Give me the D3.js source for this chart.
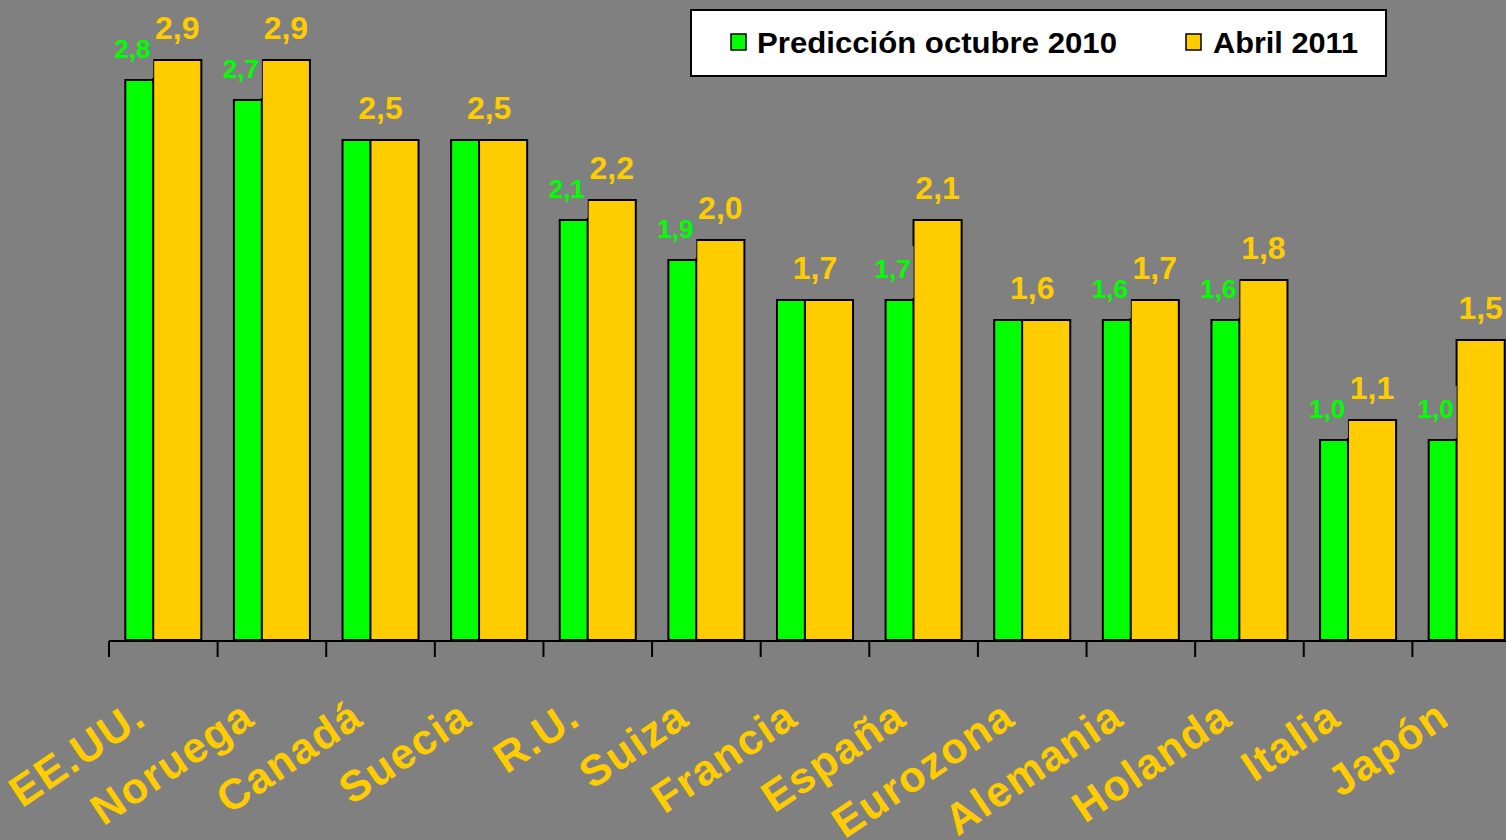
<!DOCTYPE html>
<html>
<head>
<meta charset="utf-8">
<script src="https://cdn.jsdelivr.net/npm/d3@7"></script>
<style>
  html, body { margin: 0; padding: 0; background: #808080; }
  svg { display: block; font-family: "Liberation Sans", Arial, sans-serif; }
</style>
</head>
<body>
<svg id="chart" width="1506" height="840"></svg>
<script>
// Growth forecasts by country (%)
const categories = ["EE.UU.", "Noruega", "Canadá", "Suecia", "R.U.", "Suiza", "Francia",
                    "España", "Eurozona", "Alemania", "Holanda", "Italia", "Japón"];
const prediccion2010 = [2.8, 2.7, 2.5, 2.5, 2.1, 1.9, 1.7, 1.7, 1.6, 1.6, 1.6, 1.0, 1.0];
const abril2011 = [2.9, 2.9, 2.5, 2.5, 2.2, 2.0, 1.7, 2.1, 1.6, 1.7, 1.8, 1.1, 1.5];
const seriesNames = ["Predicción octubre 2010", "Abril 2011"];

const GREEN = "#00FF00";
const GOLD = "#FFCC00";
const BG = "#808080";

const svg = d3.select("#chart");
svg.append("rect").attr("width", 1506).attr("height", 840).attr("fill", BG);

// Scales
const x = d3.scaleBand().domain(categories).range([109, 1521]).padding(0);
const y = d3.scaleLinear().domain([0, 3.2]).range([640, 0]);
const bw = x.bandwidth();

// Clustered bars with overlap: the second series is drawn over the first
const gapFrac = 0.30;          // empty share of each band
const overlapFrac = 0.42;      // share of a bar hidden behind the next one
const groupW = bw * (1 - gapFrac);
const barW = groupW / (2 - overlapFrac);
const groupOff = (bw - groupW) / 2;
const greenX = c => x(c) + groupOff;
const goldX = c => x(c) + groupOff + barW * (1 - overlapFrac);

const fmt = v => d3.format(".1f")(v).replace(".", ",");

const rows = categories.map((c, i) => ({ c, a: prediccion2010[i], b: abril2011[i] }));

const bars = svg.append("g");
bars.selectAll("rect.g").data(rows).join("rect")
  .attr("class", "g")
  .attr("x", d => greenX(d.c)).attr("width", barW)
  .attr("y", d => y(d.a)).attr("height", d => y(0) - y(d.a))
  .attr("fill", GREEN).attr("stroke", "#000").attr("stroke-width", 2);
bars.selectAll("rect.o").data(rows).join("rect")
  .attr("class", "o")
  .attr("x", d => goldX(d.c)).attr("width", barW)
  .attr("y", d => y(d.b)).attr("height", d => y(0) - y(d.b))
  .attr("fill", GOLD).attr("stroke", "#000").attr("stroke-width", 2);

// Category axis: baseline with ticks on band boundaries
const axis = svg.append("g");
const bounds = categories.map(c => x(c)).concat([x.range()[1]]);
axis.append("line")
  .attr("x1", x.range()[0]).attr("x2", x.range()[1])
  .attr("y1", 641).attr("y2", 641)
  .attr("stroke", "#000").attr("stroke-width", 2);
axis.selectAll("line.tick").data(bounds).join("line")
  .attr("class", "tick")
  .attr("x1", d => d).attr("x2", d => d)
  .attr("y1", 641).attr("y2", 657)
  .attr("stroke", "#000").attr("stroke-width", 2);

axis.selectAll("text.cat").data(categories).join("text")
  .attr("class", "cat")
  .attr("transform", c => `translate(${x(c) + bw / 2 - 15},723) rotate(-34)`)
  .attr("text-anchor", "end")
  .attr("font-size", 43).attr("font-weight", "bold")
  .attr("letter-spacing", 1.5)
  .attr("fill", GOLD)
  .text(c => c);

// Value labels for the first series (on a background-coloured box)
const greenLbl = svg.append("g")
  .selectAll("g").data(rows.filter(d => d.a !== d.b)).join("g")
  .attr("transform", d => `translate(${greenX(d.c) + 7},${y(d.a) - 22})`);
greenLbl.append("rect")
  .attr("x", -21).attr("width", 42).attr("y", -32).attr("height", 52)
  .attr("fill", BG);
greenLbl.append("text")
  .attr("text-anchor", "middle")
  .attr("font-size", 26).attr("font-weight", "bold")
  .attr("fill", GREEN)
  .text(d => fmt(d.a));

// Value labels for the second series
svg.append("g").selectAll("text").data(rows).join("text")
  .attr("x", d => d.a === d.b ? x(d.c) + bw / 2 : goldX(d.c) + barW / 2)
  .attr("y", d => y(d.b) - 21)
  .attr("text-anchor", "middle")
  .attr("font-size", 32).attr("font-weight", "bold")
  .attr("fill", GOLD)
  .text(d => fmt(d.b));

// Legend
const legend = svg.append("g");
legend.append("rect")
  .attr("x", 691).attr("y", 10).attr("width", 695).attr("height", 66)
  .attr("fill", "#fff").attr("stroke", "#000").attr("stroke-width", 2);
const legendItems = [
  { name: seriesNames[0], color: GREEN, sx: 731, tx: 757, len: 360 },
  { name: seriesNames[1], color: GOLD, sx: 1186, tx: 1213, len: 145 }
];
legend.selectAll("rect.sw").data(legendItems).join("rect")
  .attr("class", "sw")
  .attr("x", d => d.sx).attr("y", 34).attr("width", 15).attr("height", 16)
  .attr("fill", d => d.color).attr("stroke", "#000").attr("stroke-width", 1.5);
legend.selectAll("text").data(legendItems).join("text")
  .attr("x", d => d.tx).attr("y", 53)
  .attr("font-size", 29).attr("font-weight", "bold")
  .attr("textLength", d => d.len).attr("lengthAdjust", "spacingAndGlyphs")
  .attr("fill", "#000")
  .text(d => d.name);
</script>
</body>
</html>
